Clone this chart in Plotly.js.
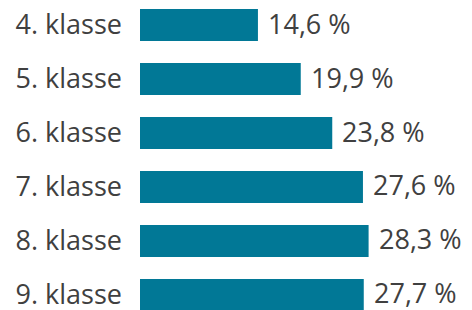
<!DOCTYPE html>
<html><head><meta charset="utf-8">
<script src="https://cdn.plot.ly/plotly-3.0.1.min.js"></script>
<style>html,body{margin:0;padding:0;background:#fff}#c{width:472px;height:310px}</style>
</head><body><div id="c"></div>
<script>
const categories = ["4. klasse","5. klasse","6. klasse","7. klasse","8. klasse","9. klasse"];
const values = [14.6, 19.9, 23.8, 27.6, 28.3, 27.7];
const labels = values.map(v => v.toFixed(1).replace('.', ',') + ' %');

const FONT = '"Open Sans", sans-serif';
const trace = {
  type: 'bar', orientation: 'h',
  x: values, y: categories,
  marker: {color: '#017896'},
  hoverinfo: 'none'
};
const annotations = values.map((v, i) => ({
  x: v, y: categories[i], xref: 'x', yref: 'y',
  text: labels[i], showarrow: false, xanchor: 'left', yanchor: 'middle',
  xshift: 8, yshift: 2,
  font: {family: FONT, size: 27, color: '#404040'}
}));
const layout = {
  width: 472, height: 310,
  margin: {l: 140, r: 0, t: 0, b: 0},
  paper_bgcolor: '#fff', plot_bgcolor: '#fff',
  bargap: 0.41,
  showlegend: false,
  annotations: annotations,
  xaxis: {range: [0, 41.1], visible: false, fixedrange: true},
  yaxis: {
    type: 'category', categoryorder: 'array', categoryarray: categories,
    range: [5.278, -0.463], showgrid: false, zeroline: false, showline: false,
    ticks: '', ticklabelstandoff: 17,
    tickfont: {family: FONT, size: 27, color: '#404040'}
  }
};
Plotly.newPlot('c', [trace], layout, {staticPlot: true, displayModeBar: false});
</script></body></html>
